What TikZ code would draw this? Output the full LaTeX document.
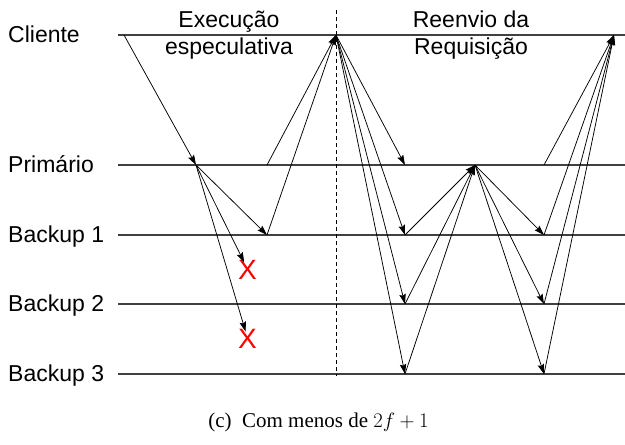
\documentclass[tikz,border=0pt]{standalone}
\usepackage{fontspec}
\setmainfont{Liberation Serif}
\newfontfamily\labelfont{Liberation Sans}
\usetikzlibrary{arrows.meta, positioning}
\tikzstyle{proc} = [anchor=base west, inner sep=0pt, font=\labelfont\fontsize{23}{27}\selectfont]
\tikzstyle{phase} = [anchor=north, align=center, inner sep=0pt, font=\labelfont\fontsize{23}{27}\selectfont]
\tikzstyle{timeline} = [line width=1.2pt, black!75]
\tikzstyle{msg} = [-{Stealth[length=10pt,width=6.5pt,inset=1.5pt]}, line width=0.75pt]
\tikzstyle{lost} = [text=red, inner sep=0pt, text height=20pt, text depth=0pt, font=\labelfont\fontsize{28}{28}\selectfont]

\begin{document}
\begin{tikzpicture}[x=1pt, y=-1pt]
        \useasboundingbox (0,0) rectangle (625,445);
        \node[proc] (cliente) at (8,42) {Cliente};
        \node[proc] (primario) at (8,172) {Primário};
        \node[proc] (backup1) at (8,242) {Backup 1};
        \node[proc] (backup2) at (8,311) {Backup 2};
        \node[proc] (backup3) at (8,381) {Backup 3};
        \node[phase] (especulativa) at (229,11) {Execução\\especulativa};
        \node[phase] (reenvio) at (471,11) {Reenvio da\\Requisição};
        \node[anchor=base, font=\fontsize{21}{25}\selectfont] (legenda) at (318.5,427) {(c)~ Com menos de $2f+1$};

        \coordinate (cli-a) at (118,35);
        \coordinate (cli-b) at (625,35);
        \coordinate (pri-a) at (118,165);
        \coordinate (pri-b) at (625,165);
        \coordinate (bk1-a) at (118,235);
        \coordinate (bk1-b) at (625,235);
        \coordinate (bk2-a) at (118,304);
        \coordinate (bk2-b) at (625,304);
        \coordinate (bk3-a) at (118,374);
        \coordinate (bk3-b) at (625,374);
        \coordinate (corte-a) at (336,10);
        \coordinate (corte-b) at (336,376);
        \draw[timeline] (cli-a) -- (cli-b);
        \draw[timeline] (pri-a) -- (pri-b);
        \draw[timeline] (bk1-a) -- (bk1-b);
        \draw[timeline] (bk2-a) -- (bk2-b);
        \draw[timeline] (bk3-a) -- (bk3-b);
        \draw[line width=0.8pt, dash pattern=on 4pt off 3pt] (corte-a) -- (corte-b);

        \coordinate (c1) at (124,35);
        \coordinate (p1) at (196,165);
        \coordinate (p2) at (267,165);
        \coordinate (b1a) at (267,235);
        \coordinate (c2) at (336,35);
        \coordinate (p3) at (405,165);
        \coordinate (b1b) at (405,235);
        \coordinate (b2b) at (405,304);
        \coordinate (b3b) at (405,374);
        \coordinate (p4) at (475,165);
        \coordinate (p5) at (544,165);
        \coordinate (b1c) at (544,235);
        \coordinate (b2c) at (544,304);
        \coordinate (b3c) at (544,374);
        \coordinate (c3) at (614,35);
        \node[lost] (x1) at (247.5,269) {X};
        \node[lost] (x2) at (247.5,338) {X};

        \draw[msg] (c1) -- (p1);
        \draw[msg] (p1) -- (b1a);
        \draw[msg, shorten >=-4pt] (p1) -- (x1);
        \draw[msg, shorten >=-4pt] (p1) -- (x2);
        \draw[msg] (b1a) -- (c2);
        \draw[msg] (p2) -- (c2);

        \draw[msg] (c2) -- (p3);
        \draw[msg] (c2) -- (b1b);
        \draw[msg] (c2) -- (b2b);
        \draw[msg] (c2) -- (b3b);
        \draw[msg] (b1b) -- (p4);
        \draw[msg] (b2b) -- (p4);
        \draw[msg] (b3b) -- (p4);
        \draw[msg] (p4) -- (b1c);
        \draw[msg] (p4) -- (b2c);
        \draw[msg] (p4) -- (b3c);
        \draw[msg] (b1c) -- (c3);
        \draw[msg] (b2c) -- (c3);
        \draw[msg] (b3c) -- (c3);
        \draw[msg] (p5) -- (c3);
    \end{tikzpicture}
\end{document}
